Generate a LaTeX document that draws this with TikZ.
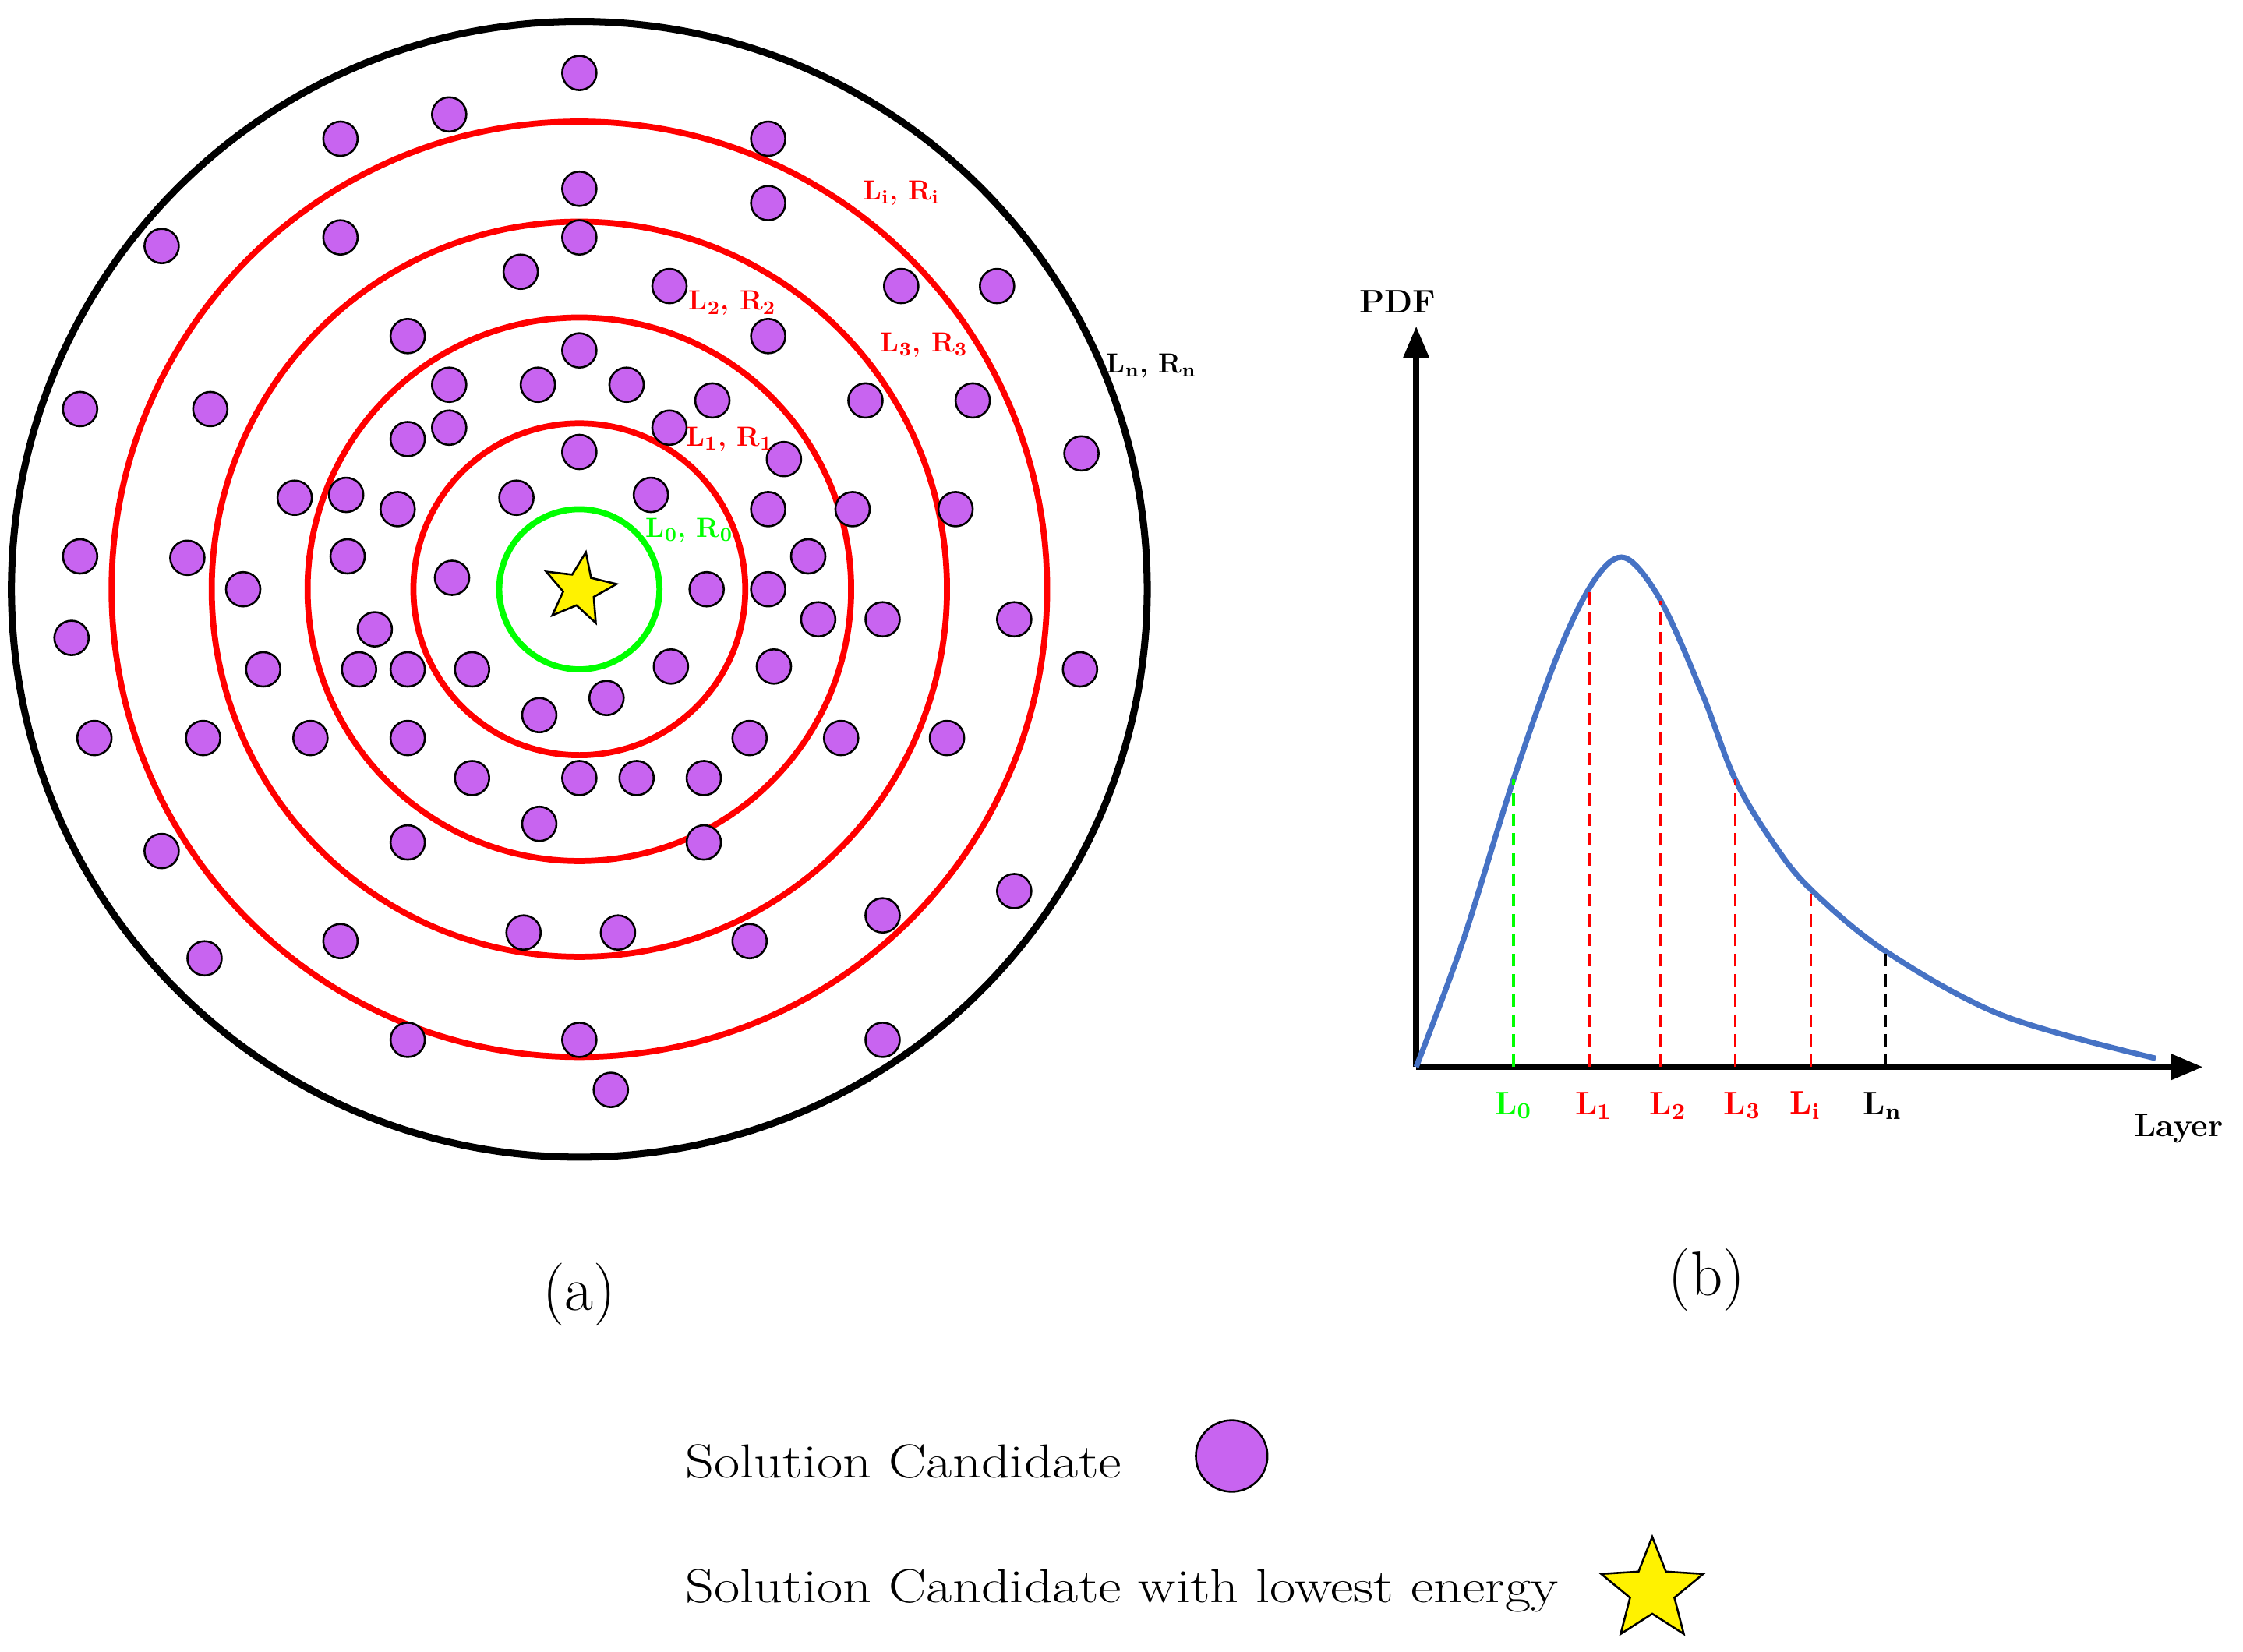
\documentclass[tikz,border=0pt]{standalone}
\usetikzlibrary{shapes.geometric,arrows.meta}
\definecolor{cand}{RGB}{200,100,240}
\definecolor{curve}{RGB}{70,114,196}
\begin{document}
\begin{tikzpicture}[x=0.02cm,y=-0.02cm,
 dot/.style={circle,draw=black,fill=cand,line width=0.8pt,minimum size=0.48cm,inner sep=0pt},
 ring/.style={red,line width=2.4pt},
 lab/.style={font=\bfseries\fontsize{11}{13}\selectfont,inner sep=1pt},
 xl/.style={font=\bfseries\fontsize{13}{15}\selectfont,inner sep=1pt},
 dl/.style={dash pattern=on 5pt off 3pt,line width=1.1pt},
 big/.style={font=\fontsize{19}{22}\selectfont,anchor=west,xscale=1.18}]
\useasboundingbox (0,0) rectangle (1568,1155);
\coordinate (c) at (405,412);
\draw[line width=2.8pt] (c) circle[radius=397*0.02cm];
\draw[ring] (c) circle[radius=327*0.02cm];
\draw[ring] (c) circle[radius=257*0.02cm];
\draw[ring] (c) circle[radius=190*0.02cm];
\draw[ring] (c) circle[radius=116*0.02cm];
\draw[green,line width=2.4pt] (c) circle[radius=56*0.02cm];
\foreach \p [count=\i] in {(405,51),(314,80),(238,97),(537,97),(405,132),(537,142),(238,166),(405,166),(113,172),(364,190),(468,200),(630,200),(697,200),(285,235),(537,235),(405,245),(314,269),(376,269),(438,269),(498,280),(605,280),(680,280),(56,286),(147,286),(285,307),(314,299),(468,299),(548,321),(756,317),(405,316),(206,348),(242,346),(278,356),(361,348),(455,346),(537,356),(596,356),(668,356),(56,389),(131,390),(243,389),(565,389),(170,412),(316,404),(494,412),(537,412),(262,440),(572,433),(617,433),(709,433),(50,446),(184,468),(251,468),(285,468),(330,468),(469,466),(541,466),(755,468),(424,488),(377,500),(66,516),(142,516),(217,516),(285,516),(524,516),(588,516),(662,516),(330,544),(405,544),(445,544),(492,544),(377,576),(285,589),(492,589),(113,595),(709,623),(617,640),(366,652),(432,652),(238,658),(524,658),(143,670),(285,727),(405,727),(617,727),(427,762)}
 \node[dot] (d\i) at \p {};
\node[star,star points=5,star point ratio=2.3,draw=black,fill=yellow,line width=0.8pt,minimum size=1.05cm,inner sep=0pt,rotate=-10] (best) at (c) {};
\node[lab,green] (l0) at (482,371) {L\textsubscript{0}, R\textsubscript{0}};
\node[lab,red] (l1) at (510,307) {L\textsubscript{1}, R\textsubscript{1}};
\node[lab,red] (l2) at (512,212) {L\textsubscript{2}, R\textsubscript{2}};
\node[lab,red] (l3) at (646,241) {L\textsubscript{3}, R\textsubscript{3}};
\node[lab,red] (li) at (630,135) {L\textsubscript{i}, R\textsubscript{i}};
\node[lab] (ln) at (805,256) {L\textsubscript{n}, R\textsubscript{n}};
% panel b
\coordinate (o) at (990,746);
\coordinate (ytop) at (990,228);
\coordinate (xend) at (1540,746);
\draw[line width=2.4pt,-{Triangle[length=0.45cm,width=0.35cm]}] (o) -- (ytop);
\draw[line width=2.4pt,-{Triangle[length=0.45cm,width=0.35cm]}] (o) -- (xend);
\node[xl] (pdf) at (977,211) {PDF};
\node[xl] (layer) at (1523,789) {Layer};
\draw[line width=2.2pt,curve] plot[smooth,tension=0.55] coordinates {(990,746) (1022,660) (1058,545) (1090,455) (1115,405) (1136,390) (1161,420) (1190,485) (1213,545) (1240,590) (1266,622) (1318,665) (1400,710) (1507,740)};
\draw[dl,green] (1058,746) -- (1058,545);
\draw[dl,red] (1111,746) -- (1111,412);
\draw[dl,red] (1161,746) -- (1161,420);
\draw[dl,red] (1213,746) -- (1213,545);
\draw[dl,red] (1266,746) -- (1266,622);
\draw[dl,black] (1318,746) -- (1318,665);
\node[xl,green] (b0) at (1058,773) {L\textsubscript{0}};
\node[xl,red] (b1) at (1114,773) {L\textsubscript{1}};
\node[xl,red] (b2) at (1166,773) {L\textsubscript{2}};
\node[xl,red] (b3) at (1218,773) {L\textsubscript{3}};
\node[xl,red] (bi) at (1262,773) {L\textsubscript{i}};
\node[xl] (bn) at (1316,773) {L\textsubscript{n}};
\node[font=\fontsize{25}{30}\selectfont] (ca) at (405,905) {(a)};
\node[font=\fontsize{25}{30}\selectfont] (cb) at (1193,895) {(b)};
\node[big] (t1) at (472,1022) {Solution Candidate};
\node[dot,minimum size=1.0cm] (g1) at (861,1018) {};
\node[big] (t2) at (472,1112) {Solution Candidate with lowest energy};
\node[star,star points=5,star point ratio=2.3,draw=black,fill=yellow,line width=0.8pt,minimum size=1.5cm,inner sep=0pt] (g2) at (1155,1112) {};
\end{tikzpicture}
\end{document}
